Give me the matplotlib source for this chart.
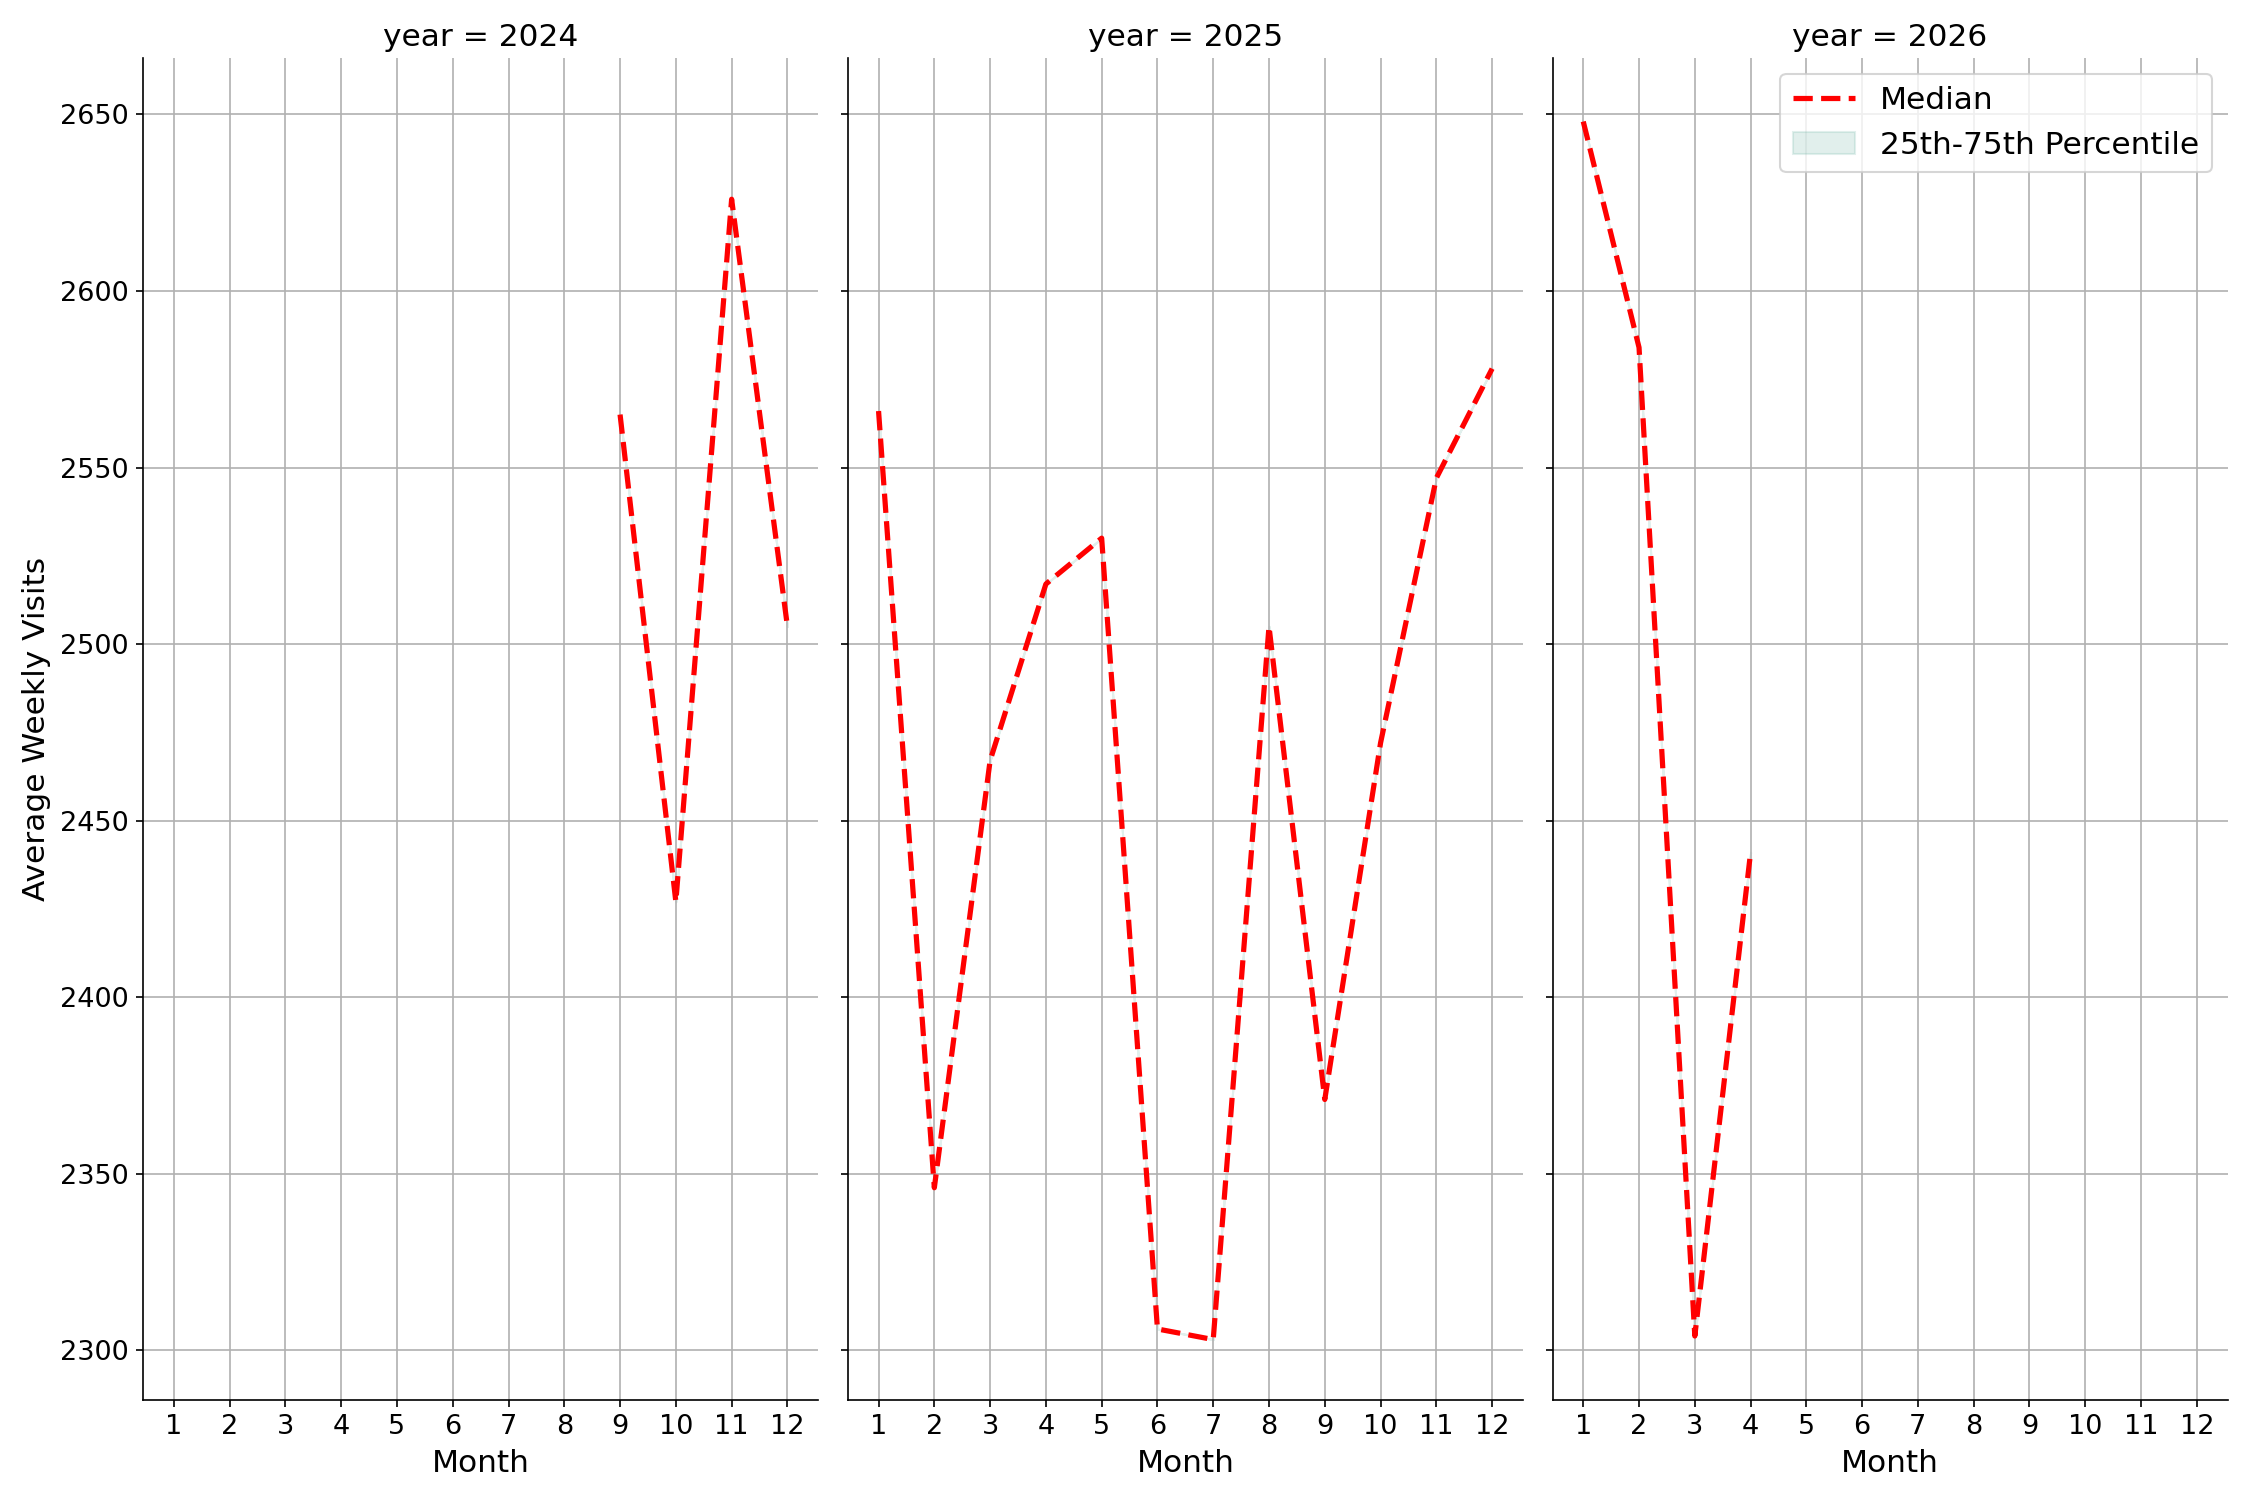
import matplotlib.pyplot as plt

years = [2024, 2025, 2026]
months_2024 = [9, 10, 11, 12]
median_2024 = [2565, 2427, 2626, 2505]
months_2025 = [1, 2, 3, 4, 5, 6, 7, 8, 9, 10, 11, 12]
median_2025 = [2566, 2346, 2467, 2517, 2530, 2306, 2303, 2505, 2371, 2472, 2547, 2578]
months_2026 = [1, 2, 3, 4]
median_2026 = [2648, 2584, 2304, 2441]

data = {2024: (months_2024, median_2024),
        2025: (months_2025, median_2025),
        2026: (months_2026, median_2026)}

fig, axes = plt.subplots(1, 3, figsize=(15, 10), dpi=150, sharey=True)
for ax, yr in zip(axes, years):
    m, v = data[yr]
    ax.plot(m, v, color='red', linestyle='--', linewidth=2.5, label='Median')
    # percentile band is empty in the source (one value per month)
    ax.fill_between(m, v, v, color='#69b3a2', alpha=0.2, label='25th-75th Percentile')
    ax.set_title(f"year = {yr}", fontsize=15)
    ax.set_xlabel("Month", fontsize=15)
    ax.set_xticks(range(1, 13))
    ax.set_xlim(0.45, 12.55)
    ax.tick_params(labelsize=13)
    ax.grid(True)
    ax.spines['top'].set_visible(False)
    ax.spines['right'].set_visible(False)

axes[0].set_ylim(2286, 2666)
axes[0].set_ylabel("Average Weekly Visits", fontsize=15)
axes[2].legend(loc='upper right', fontsize=15)
plt.tight_layout()
plt.savefig("out.png")
